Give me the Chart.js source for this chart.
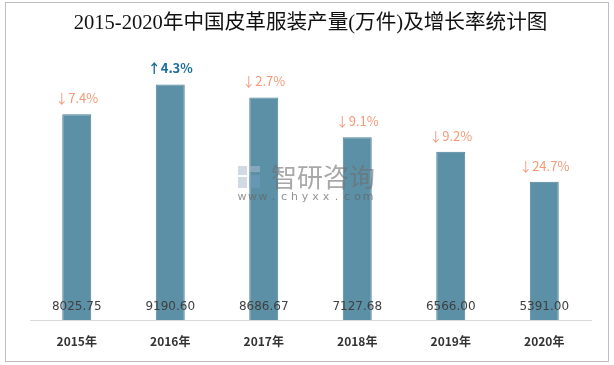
<!DOCTYPE html>
<html>
<head>
<meta charset="utf-8">
<script src="https://cdn.jsdelivr.net/npm/chart.js@4/dist/chart.umd.min.js"></script>
<style>
  body { margin: 0; background: #fff; }
</style>
</head>
<body>
<canvas id="mycanvas" width="614" height="365"></canvas>
<script>
// data
var years = ['2015年', '2016年', '2017年', '2018年', '2019年', '2020年'];
var output = [8025.75, 9190.60, 8686.67, 7127.68, 6566.00, 5391.00];
var growth = [-7.4, 4.3, -2.7, -9.1, -9.2, -24.7];

var frame = {
  id: 'frame',
  beforeDraw: function(chart) {
    var c = chart.ctx;
    c.save();
    c.fillStyle = '#fff';
    c.fillRect(0, 0, chart.width, chart.height);
    c.strokeStyle = '#bfbfbf';
    c.lineWidth = 1;
    c.strokeRect(5.5, 2.5, 603, 359);
    c.restore();
  }
};

var labelsPlugin = {
  id: 'labelsPlugin',
  afterDatasetsDraw: function(chart) {
    var c = chart.ctx;
    var meta = chart.getDatasetMeta(0);
    var bottom = chart.scales.y.bottom;
    c.save();
    c.textAlign = 'center';
    c.textBaseline = 'middle';

    // watermark
    c.fillStyle = 'rgba(170,185,205,0.55)';
    c.fillRect(238, 166, 9, 9);
    c.fillRect(249, 166, 11, 6);
    c.fillRect(238, 177, 9, 11);
    c.fillStyle = 'rgba(120,160,200,0.45)';
    c.fillRect(249, 175, 11, 13);
    c.fillStyle = 'rgba(110,110,110,0.6)';
    c.font = '26px "Noto Sans CJK SC"';
    c.fillText('智研咨询', 323, 177);
    c.font = '11px "DejaVu Sans"';
    c.fillStyle = 'rgba(100,100,100,0.7)';
    var w = 'www.chyxx.com';
    for (var k = 0; k < w.length; k++) {
      c.fillText(w[k], 242 + k * 10.5, 197);
    }

    meta.data.forEach(function(bar, i) {
      c.font = '12px "DejaVu Sans"';
      c.fillStyle = '#404040';
      c.fillText(output[i].toFixed(2), bar.x, bottom - 13);

      var g = growth[i];
      if (g < 0) {
        c.font = '13px "Noto Sans CJK SC"';
        c.fillStyle = '#f39a78';
        c.fillText('↓' + Math.abs(g).toFixed(1) + '%', bar.x, bar.y - 16);
      } else {
        c.font = 'bold 13px "Noto Sans CJK SC"';
        c.fillStyle = '#1c6d9c';
        c.fillText('↑' + g.toFixed(1) + '%', bar.x, bar.y - 16);
      }
    });
    c.restore();
  }
};

var chartdata = {
  labels: years,
  datasets: [{
    label: '产量',
    data: output,
    backgroundColor: '#5b90a6',
    borderColor: '#4d8299',
    borderWidth: 1,
    categoryPercentage: 1,
    barPercentage: 0.31
  }]
};

var ctx = document.getElementById('mycanvas');
var barGraph = new Chart(ctx, {
  type: 'bar',
  data: chartdata,
  plugins: [frame, labelsPlugin],
  options: {
    responsive: false,
    animation: false,
    layout: { padding: { left: 30, right: 23, top: 11, bottom: 0 } },
    plugins: {
      legend: { display: false },
      tooltip: { enabled: false },
      title: {
        display: true,
        text: '2015-2020年中国皮革服装产量(万件)及增长率统计图',
        font: { family: '"Liberation Serif", "Noto Sans CJK SC"', size: 20.6, weight: 'normal' },
        color: '#111',
        padding: { top: 0, bottom: 28 }
      }
    },
    scales: {
      x: {
        afterFit: function(scale) { scale.height = 45; },
        grid: { display: false, drawTicks: false },
        border: { color: '#d9d9d9', width: 1 },
        ticks: {
          padding: 14,
          color: '#333',
          font: { family: '"Noto Sans CJK SC"', size: 12, weight: 'bold' }
        }
      },
      y: {
        display: false,
        min: 0,
        max: 10000
      }
    }
  }
});
</script>
</body>
</html>
